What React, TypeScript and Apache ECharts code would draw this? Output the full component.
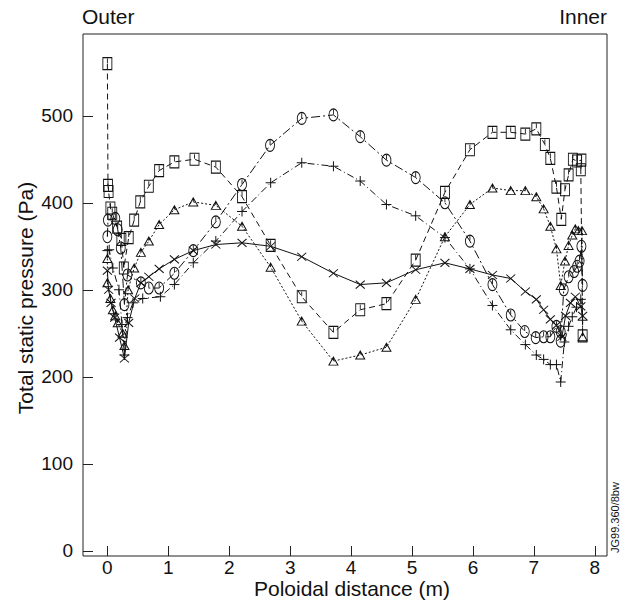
import React, { useEffect, useRef } from "react";
import * as echarts from "echarts";

// Square series (dashed)
const SQ_X = [0, 0.01, 0.02, 0.05, 0.08, 0.16, 0.23, 0.27, 0.35, 0.44, 0.54, 0.68, 0.85, 1.1, 1.43, 1.78, 2.21, 2.68, 3.19, 3.71, 4.15, 4.58, 5.06, 5.54, 5.95, 6.32, 6.62, 6.86, 7.04, 7.18, 7.27, 7.37, 7.45, 7.51, 7.57, 7.64, 7.71, 7.78, 7.77, 7.8];
const SQ_Y = [560, 420, 413, 394, 388, 372, 358, 325, 360, 380, 401, 419, 437, 447, 450, 441, 407, 351, 292, 251, 277, 284, 334, 412, 461, 481, 481, 479, 485, 467, 451, 418, 381, 415, 432, 450, 448, 449, 438, 247];

// Circle series (long dash-dot)
const CI_X = [0, 0.01, 0.13, 0.17, 0.22, 0.28, 0.33, 0.55, 0.68, 0.85, 1.1, 1.41, 1.78, 2.21, 2.67, 3.19, 3.71, 4.15, 4.58, 5.06, 5.54, 5.95, 6.32, 6.62, 6.85, 7.03, 7.16, 7.27, 7.37, 7.44, 7.44, 7.49, 7.57, 7.66, 7.71, 7.75, 7.78, 7.8];
const CI_Y = [361, 380, 382, 369, 348, 283, 317, 308, 302, 302, 319, 345, 378, 421, 466, 497, 501, 476, 449, 429, 400, 356, 306, 271, 252, 245, 246, 246, 258, 252, 241, 300, 315, 321, 327, 333, 350, 305];

// Triangle series (dotted)
const TR_X = [0, 0.0, 0.05, 0.09, 0.13, 0.17, 0.25, 0.28, 0.34, 0.44, 0.55, 0.68, 0.85, 1.1, 1.41, 1.78, 2.21, 2.68, 3.19, 3.71, 4.15, 4.58, 5.06, 5.54, 5.95, 6.32, 6.62, 6.86, 7.04, 7.16, 7.27, 7.37, 7.44, 7.51, 7.57, 7.63, 7.68, 7.73, 7.79, 7.8];
const TR_Y = [336, 308, 290, 277, 270, 262, 250, 236, 300, 325, 343, 356, 375, 392, 401, 397, 373, 326, 264, 218, 225, 234, 289, 361, 398, 417, 414, 414, 407, 393, 373, 347, 305, 333, 351, 363, 370, 368, 368, 246];

// Plus series (dash-dot)
const PL_X = [0, 0.03, 0.09, 0.19, 0.24, 0.28, 0.33, 0.42, 0.58, 0.87, 1.1, 1.41, 1.78, 2.21, 2.68, 3.19, 3.71, 4.15, 4.58, 5.06, 5.54, 5.95, 6.32, 6.62, 6.86, 7.04, 7.16, 7.27, 7.37, 7.44, 7.5, 7.57, 7.63, 7.7, 7.77, 7.8];
const PL_Y = [345, 346, 325, 300, 260, 225, 268, 285, 290, 292, 306, 331, 356, 390, 423, 446, 442, 425, 398, 385, 360, 324, 282, 254, 237, 225, 220, 214, 214, 194, 240, 258, 269, 280, 289, 265];

// Cross series (solid)
const CR_X = [0, 0.02, 0.06, 0.12, 0.2, 0.28, 0.35, 0.45, 0.55, 0.68, 0.85, 1.1, 1.41, 1.78, 2.21, 2.68, 3.19, 3.71, 4.15, 4.58, 5.06, 5.54, 5.95, 6.32, 6.62, 6.86, 7.04, 7.16, 7.27, 7.37, 7.46, 7.52, 7.6, 7.68, 7.77, 7.8];
const CR_Y = [322, 300, 285, 268, 245, 221, 262, 290, 308, 315, 324, 335, 345, 352, 354, 350, 338, 319, 306, 308, 323, 331, 324, 317, 313, 298, 289, 277, 266, 259, 246, 270, 285, 292, 281, 270];

const X_TICKS = [0, 1, 2, 3, 4, 5, 6, 7, 8];
const Y_TICKS = [0, 100, 200, 300, 400, 500];

const FONT = "'Liberation Sans', Arial, Helvetica, sans-serif";

const SYM_SQUARE = "path://M0,0H10V13H0Z M5,1V6";
const SYM_CIRCLE = "path://M5,0A5,6.5,0,1,1,5,13A5,6.5,0,1,1,5,0Z M5,1V6";
const SYM_TRI = "path://M5,0L10,9H0Z M5,1V4";
const SYM_PLUS = "path://M6,0V12M0,6H12";
const SYM_CROSS = "path://M0,0L10,9M10,0L0,9";

function zip(xs: number[], ys: number[]) {
  return xs.map((x, i) => [x, ys[i]]);
}

function mkSeries(name: string, xs: number[], ys: number[], symbol: string, size: number[], dash: any) {
  return {
    name,
    type: "line",
    data: zip(xs, ys),
    symbol,
    symbolSize: size,
    showAllSymbol: true,
    lineStyle: { color: "#111", width: 1, type: dash },
    itemStyle: { color: "rgba(0,0,0,0)", borderColor: "#111", borderWidth: 1 },
    emphasis: { disabled: true },
    z: 2,
  };
}

export default function App() {
  const ref = useRef<HTMLDivElement>(null);
  useEffect(() => {
    if (!ref.current) return;
    const chart = echarts.init(ref.current, undefined, { renderer: "svg" });
    chart.setOption({
      animation: false,
      backgroundColor: "#fff",
      grid: { left: 83, right: 20, top: 34, bottom: 45, show: true, borderColor: "#222", borderWidth: 1, backgroundColor: "transparent" },
      xAxis: {
        type: "value",
        min: -0.4,
        max: 8.2,
        axisLine: { show: false, onZero: false },
        splitLine: { show: false },
        axisTick: { show: true, inside: true, length: 10, customValues: X_TICKS, lineStyle: { color: "#222" } },
        axisLabel: { customValues: X_TICKS, fontSize: 19, color: "#111", fontFamily: FONT, margin: 2 },
      },
      yAxis: {
        type: "value",
        min: -6,
        max: 594,
        axisLine: { show: false, onZero: false },
        splitLine: { show: false },
        axisTick: { show: true, inside: true, length: 10, customValues: Y_TICKS, lineStyle: { color: "#222" } },
        axisLabel: { customValues: Y_TICKS, fontSize: 19, color: "#111", fontFamily: FONT, margin: 10 },
      },
      graphic: [
        { type: "text", left: 82, top: 6, style: { text: "Outer", font: `21px ${FONT}`, fill: "#111" } },
        { type: "text", right: 20, top: 6, style: { text: "Inner", font: `21px ${FONT}`, fill: "#111" } },
        { type: "text", x: 352, y: 578, style: { text: "Poloidal distance (m)", font: `21px ${FONT}`, fill: "#111", textAlign: "center", textVerticalAlign: "top" } },
        { type: "text", x: 25, y: 298, rotation: Math.PI / 2, style: { text: "Total static pressure (Pa)", font: `21px ${FONT}`, fill: "#111", textAlign: "center", textVerticalAlign: "middle" } },
        { type: "text", x: 615, y: 553, rotation: Math.PI / 2, style: { text: "JG99.360/8bw", font: `11px ${FONT}`, fill: "#111", textAlign: "left", textVerticalAlign: "middle" } },
      ],
      series: [
        mkSeries("square", SQ_X, SQ_Y, SYM_SQUARE, [9, 12], [6, 4]),
        mkSeries("circle", CI_X, CI_Y, SYM_CIRCLE, [9, 12], [9, 3, 2, 3]),
        mkSeries("triangle", TR_X, TR_Y, SYM_TRI, [9, 8], [2, 2]),
        mkSeries("plus", PL_X, PL_Y, SYM_PLUS, [10, 10], [7, 3, 1, 3]),
        mkSeries("cross", CR_X, CR_Y, SYM_CROSS, [9, 8], "solid"),
      ],
    });
    return () => chart.dispose();
  }, []);
  return <div ref={ref} style={{ width: 627, height: 601, position: "absolute", left: 0, top: 0 }} />;
}
